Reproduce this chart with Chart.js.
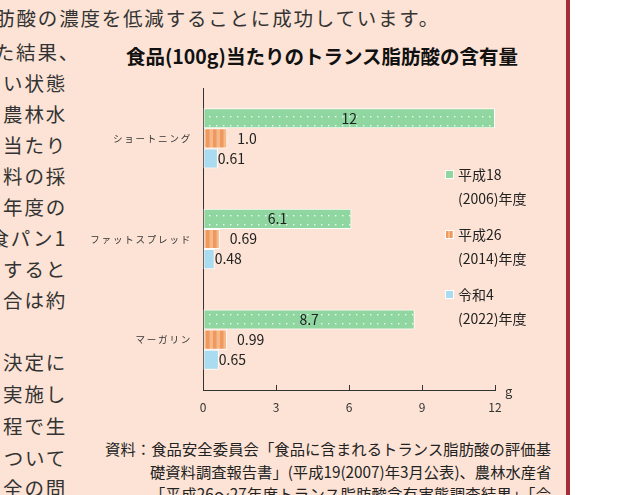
<!DOCTYPE html>
<html lang="ja">
<head>
<meta charset="utf-8">
<script src="https://cdn.jsdelivr.net/npm/chart.js@4"></script>
<style>
body { margin: 0; width: 634px; height: 495px; overflow: hidden; background: #fff; font-family: "Noto Sans CJK JP", sans-serif; }
#page { position: absolute; left: 0; top: 0; width: 566px; height: 495px; background: #fce3d5; border-right: 4px solid #a52d3a; overflow: hidden; }
.bl { position: absolute; white-space: nowrap; font-size: 19.5px; line-height: 20px; letter-spacing: 1.8px; color: #333; }
.foot { position: absolute; white-space: nowrap; font-size: 15.3px; line-height: 18px; color: #222; text-align: justify; text-align-last: justify; }
#title { position: absolute; left: 100px; width: 444px; top: 44px; text-align: center; font-size: 19.5px; line-height: 24px; font-weight: bold; color: #111; }
#c { position: absolute; left: 80px; top: 40px; }
.leg { position: absolute; left: 445px; font-size: 14px; line-height: 24px; color: #222; }
.leg i { position: absolute; left: 0; top: 8px; width: 7px; height: 7px; border: 1px solid #fff; }
.leg span { display: block; margin-left: 13px; }
</style>
</head>
<body>
<div id="page">
  <div class="bl" style="right:126px;top:8px">肪酸の濃度を低減することに成功しています。</div>
  <div class="bl" style="right:486px;top:42px">た結果、</div>
  <div class="bl" style="right:499px;top:73px">い状態</div>
  <div class="bl" style="right:499px;top:104px">農林水</div>
  <div class="bl" style="right:499px;top:135px">当たり</div>
  <div class="bl" style="right:499px;top:166px">料の採</div>
  <div class="bl" style="right:499px;top:197px">年度の</div>
  <div class="bl" style="right:499px;top:228px">食パン1</div>
  <div class="bl" style="right:499px;top:259px">すると</div>
  <div class="bl" style="right:499px;top:290px">合は約</div>
  <div class="bl" style="right:499px;top:352px">決定に</div>
  <div class="bl" style="right:499px;top:384px">実施し</div>
  <div class="bl" style="right:499px;top:416px">程で生</div>
  <div class="bl" style="right:499px;top:448px">ついて</div>
  <div class="bl" style="right:499px;top:478px">全の問</div>

  <div id="title">食品(100g)当たりのトランス脂肪酸の含有量</div>

  <div class="foot" style="left:105px;top:439px;width:446px">資料：食品安全委員会「食品に含まれるトランス脂肪酸の評価基</div>
  <div class="foot" style="left:150px;top:462px;width:401px">礎資料調査報告書」(平成19(2007)年3月公表)、農林水産省</div>
  <div class="foot" style="left:150px;top:484px;width:401px">「平成26～27年度トランス脂肪酸含有実態調査結果」「令</div>

  <canvas id="c" width="480" height="390"></canvas>
  <div id="legend"></div>
</div>
<script>
// values (g per 100g)
const categories = ['ショートニング', 'ファットスプレッド', 'マーガリン'];
const seriesNames = [['平成18', '(2006)年度'], ['平成26', '(2014)年度'], ['令和4', '(2022)年度']];
const h18 = [12, 6.1, 8.7];
const h26 = [1.0, 0.69, 0.99];
const r4 = [0.61, 0.48, 0.65];
const xTicks = [0, 3, 6, 9, 12];

const fontJP = '"Noto Sans CJK JP", sans-serif';

// green with small white dots
function dotPattern() {
    const c = document.createElement('canvas');
    c.width = 7; c.height = 9;
    const g = c.getContext('2d');
    g.fillStyle = '#8fd6a0';
    g.fillRect(0, 0, 7, 9);
    g.fillStyle = '#eef9ef';
    g.fillRect(3, 4, 1.4, 1.4);
    return g.createPattern(c, 'repeat');
}

// orange vertical stripes
function stripePattern() {
    const c = document.createElement('canvas');
    c.width = 7; c.height = 4;
    const g = c.getContext('2d');
    g.fillStyle = '#f7b888';
    g.fillRect(0, 0, 7, 4);
    g.fillStyle = '#ef985f';
    g.fillRect(0, 0, 3.5, 4);
    return g.createPattern(c, 'repeat');
}

const fills = [dotPattern(), stripePattern(), '#a9dcf0'];
const legendFills = ['#8fd6a0', 'repeating-linear-gradient(90deg,#ef985f 0 2px,#f7b888 2px 4px)', '#a9dcf0'];

// legend, two lines per entry
const legendTops = [162, 222, 282];
document.getElementById('legend').innerHTML = seriesNames.map((n, i) =>
    `<div class="leg" style="top:${legendTops[i]}px"><i style="background:${legendFills[i]}"></i><span>${n[0]}</span><span>${n[1]}</span></div>`
).join('');

// value labels, category labels and unit
const labelPlugin = {
    id: 'labels',
    afterDatasetsDraw(chart) {
        const ctx = chart.ctx;
        ctx.save();
        ctx.font = '14px ' + fontJP;
        ctx.fillStyle = '#222';
        ctx.textBaseline = 'middle';
        chart.data.datasets.forEach((ds, di) => {
            chart.getDatasetMeta(di).data.forEach((bar, i) => {
                const txt = ds.data[i].toPrecision(2);
                if (di === 0) {
                    ctx.textAlign = 'center';
                    ctx.fillText(txt, (bar.base + bar.x) / 2, bar.y);
                } else {
                    ctx.textAlign = 'left';
                    ctx.fillText(txt, bar.x + (di === 1 ? 10 : 0), bar.y);
                }
            });
        });

        const yScale = chart.scales.y;
        ctx.font = '9.5px ' + fontJP;
        ctx.letterSpacing = '1.8px';
        ctx.textAlign = 'right';
        ctx.fillStyle = '#333';
        categories.forEach((c, i) => ctx.fillText(c, chart.chartArea.left - 11, yScale.getPixelForValue(i)));
        ctx.letterSpacing = '0px';

        const xScale = chart.scales.x;
        ctx.font = '13px ' + fontJP;
        ctx.textAlign = 'left';
        ctx.fillText('g', xScale.right + 10, xScale.top + 1);
        ctx.restore();
    }
};

new Chart(document.getElementById('c'), {
    type: 'bar',
    data: {
        labels: categories,
        datasets: [h18, h26, r4].map((d, i) => ({
            label: seriesNames[i].join(''),
            data: d,
            backgroundColor: fills[i],
            borderColor: '#fff',
            borderWidth: 1,
            borderSkipped: false,
            categoryPercentage: 0.6,
            barPercentage: 1.0
        }))
    },
    options: {
        indexAxis: 'y',
        responsive: false,
        animation: false,
        layout: { padding: { left: 0, right: 65, top: 48, bottom: 0 } },
        plugins: {
            legend: { display: false },
            tooltip: { enabled: false },
            title: { display: false }
        },
        scales: {
            x: {
                min: 0,
                max: 12,
                afterBuildTicks: s => { s.ticks = xTicks.map(v => ({ value: v })); },
                afterFit: s => { s.height = 40; },
                grid: { display: true, drawOnChartArea: false, drawTicks: true, tickLength: -5, color: '#333' },
                border: { display: true, color: '#333', width: 1 },
                ticks: { color: '#333', padding: 15, font: { family: fontJP, size: 12 } }
            },
            y: {
                afterFit: s => { s.width = 123; },
                grid: { display: false },
                border: { display: true, color: '#333', width: 1 },
                ticks: { display: false }
            }
        }
    },
    plugins: [labelPlugin]
});
</script>
</body>
</html>
